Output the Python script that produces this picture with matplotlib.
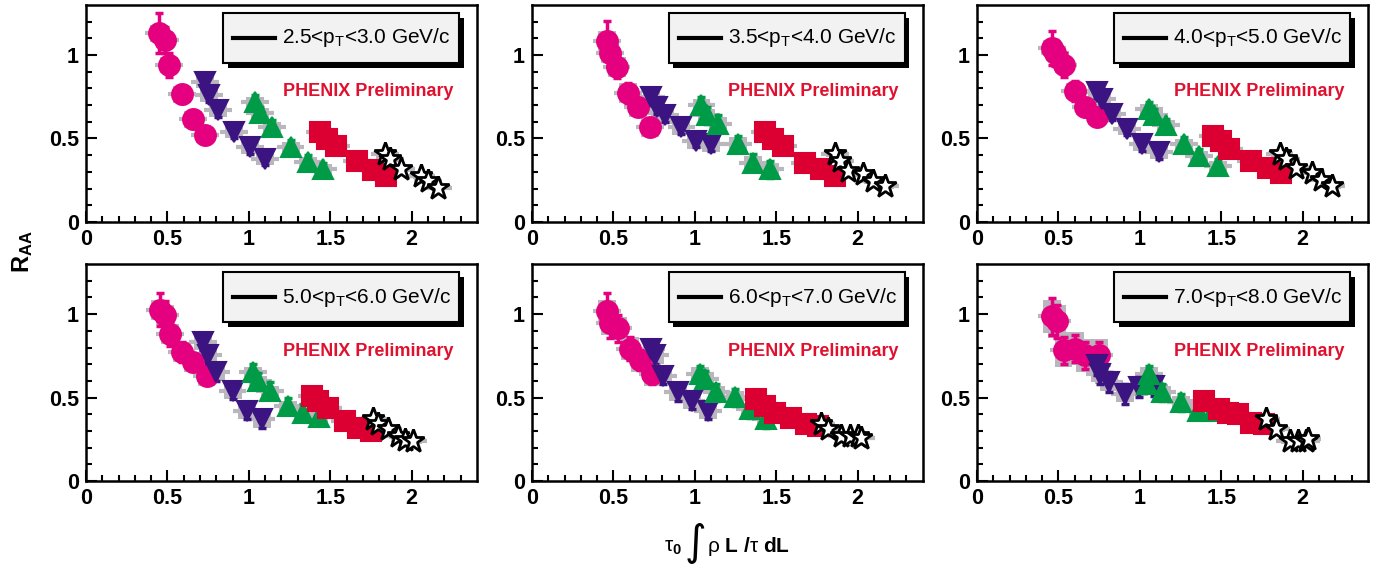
import matplotlib
matplotlib.use("Agg")
import matplotlib.pyplot as plt
from matplotlib.patches import Rectangle
import numpy as np

plt.rcParams['font.family'] = ['Liberation Sans', 'DejaVu Sans']
plt.rcParams['mathtext.fontset'] = 'custom'
plt.rcParams['mathtext.rm'] = 'Liberation Sans'
plt.rcParams['mathtext.bf'] = 'Liberation Sans:bold'
plt.rcParams['mathtext.it'] = 'Liberation Sans:italic'
plt.rcParams['mathtext.default'] = 'regular'

PT_BINS = ["2.5<p$_T$<3.0 GeV/c", "3.5<p$_T$<4.0 GeV/c", "4.0<p$_T$<5.0 GeV/c",
           "5.0<p$_T$<6.0 GeV/c", "6.0<p$_T$<7.0 GeV/c", "7.0<p$_T$<8.0 GeV/c"]

# magenta circles
CIRC_X = [[0.448, 0.485, 0.51, 0.59, 0.658, 0.73],
          [0.462, 0.478, 0.52, 0.591, 0.652, 0.724],
          [0.459, 0.479, 0.531, 0.603, 0.665, 0.737],
          [0.454, 0.485, 0.515, 0.587, 0.658, 0.74],
          [0.462, 0.478, 0.53, 0.601, 0.663, 0.74],
          [0.459, 0.49, 0.531, 0.603, 0.665, 0.747]]
CIRC_Y = [[1.13, 1.09, 0.94, 0.765, 0.614, 0.52],
          [1.083, 1.012, 0.931, 0.77, 0.689, 0.568],
          [1.042, 1.012, 0.941, 0.784, 0.689, 0.628],
          [1.026, 0.996, 0.879, 0.774, 0.712, 0.632],
          [1.016, 0.945, 0.915, 0.794, 0.723, 0.642],
          [0.986, 0.956, 0.784, 0.794, 0.753, 0.753]]
CIRC_ERR = [[0.12, 0.08, 0.07, 0.05, 0.05, 0.04],
            [0.12, 0.08, 0.07, 0.06, 0.05, 0.05],
            [0.1, 0.08, 0.07, 0.06, 0.05, 0.05],
            [0.1, 0.08, 0.07, 0.06, 0.05, 0.05],
            [0.11, 0.09, 0.08, 0.07, 0.06, 0.06],
            [0.11, 0.1, 0.08, 0.08, 0.08, 0.08]]
CIRC_SYS = [0.05, 0.06, 0.05, 0.06, 0.07, 0.1]

# purple down triangles
DOWN_X = [[0.73, 0.757, 0.81, 0.91, 1.006, 1.10],
          [0.734, 0.765, 0.816, 0.918, 1.006, 1.102],
          [0.737, 0.768, 0.83, 0.922, 1.015, 1.117],
          [0.72, 0.75, 0.80, 0.90, 0.986, 1.078],
          [0.734, 0.755, 0.806, 0.898, 0.98, 1.082],
          [0.737, 0.757, 0.809, 0.906, 0.994, 1.086]]
DOWN_Y = [[0.84, 0.76, 0.67, 0.54, 0.447, 0.38],
          [0.75, 0.689, 0.638, 0.568, 0.487, 0.467],
          [0.78, 0.739, 0.648, 0.558, 0.467, 0.416],
          [0.834, 0.753, 0.652, 0.541, 0.42, 0.37],
          [0.794, 0.753, 0.632, 0.531, 0.481, 0.42],
          [0.693, 0.642, 0.592, 0.521, 0.562, 0.571]]
DOWN_ERR = [0.04, 0.04, 0.04, 0.05, 0.05, 0.06]
DOWN_SYS = [0.04, 0.05, 0.04, 0.05, 0.05, 0.05]

# green up triangles
UP_X = [[1.037, 1.067, 1.14, 1.256, 1.364, 1.456],
        [1.041, 1.072, 1.143, 1.266, 1.358, 1.46],
        [1.056, 1.087, 1.159, 1.272, 1.364, 1.478],
        [1.027, 1.057, 1.129, 1.241, 1.333, 1.431],
        [1.031, 1.061, 1.133, 1.245, 1.337, 1.436],
        [1.045, 1.056, 1.138, 1.251, 1.354, 1.447]]
UP_Y = [[0.72, 0.65, 0.57, 0.45, 0.36, 0.315],
        [0.699, 0.638, 0.588, 0.467, 0.356, 0.315],
        [0.679, 0.638, 0.578, 0.467, 0.396, 0.335],
        [0.652, 0.60, 0.541, 0.45, 0.41, 0.386],
        [0.642, 0.612, 0.531, 0.501, 0.43, 0.37],
        [0.582, 0.642, 0.531, 0.471, 0.42, 0.42]]
UP_ERR = [0.04, 0.05, 0.04, 0.05, 0.05, 0.05]
UP_SYS = [0.03, 0.04, 0.03, 0.03, 0.04, 0.04]

# red squares
SQ_X = [[1.436, 1.477, 1.538, 1.665, 1.763, 1.845],
        [1.43, 1.48, 1.542, 1.675, 1.777, 1.859],
        [1.447, 1.498, 1.549, 1.683, 1.786, 1.868],
        [1.385, 1.425, 1.487, 1.589, 1.671, 1.753],
        [1.378, 1.43, 1.491, 1.593, 1.685, 1.757],
        [1.395, 1.488, 1.54, 1.601, 1.683, 1.765]]
SQ_Y = [[0.537, 0.497, 0.456, 0.366, 0.311, 0.275],
        [0.537, 0.497, 0.456, 0.356, 0.315, 0.275],
        [0.517, 0.487, 0.436, 0.366, 0.325, 0.295],
        [0.511, 0.481, 0.44, 0.36, 0.319, 0.299],
        [0.491, 0.45, 0.41, 0.38, 0.339, 0.329],
        [0.481, 0.43, 0.41, 0.40, 0.35, 0.339]]
SQ_SYS = [0.025, 0.025, 0.025, 0.025, 0.03, 0.03]

# black open stars
STAR_X = [[1.834, 1.865, 1.937, 2.06, 2.10, 2.16],
          [1.859, 1.89, 1.94, 2.03, 2.094, 2.166],
          [1.858, 1.9, 1.961, 2.054, 2.115, 2.177],
          [1.763, 1.793, 1.855, 1.916, 1.957, 2.008],
          [1.777, 1.818, 1.9, 1.951, 2.002, 2.02],
          [1.776, 1.838, 1.92, 1.97, 2.023, 2.03]]
STAR_Y = [[0.406, 0.376, 0.315, 0.275, 0.244, 0.204],
          [0.406, 0.366, 0.305, 0.285, 0.244, 0.214],
          [0.406, 0.376, 0.325, 0.295, 0.254, 0.214],
          [0.37, 0.339, 0.309, 0.269, 0.248, 0.238],
          [0.339, 0.309, 0.269, 0.269, 0.269, 0.26],
          [0.37, 0.309, 0.238, 0.238, 0.238, 0.25]]
STAR_SYS = [0.015, 0.015, 0.015, 0.015, 0.015, 0.015]

GRAY = '#bab6be'
BOX_HW = 0.055
LINE_HW = 0.085
W_PX, H_PX = 1381, 572


def draw_series(ax, xs, ys, errs, sys, color, marker, ms, mfc=None, mew=1.5):
    for x, y in zip(xs, ys):
        ax.add_patch(Rectangle((x - BOX_HW, y - sys), 2 * BOX_HW, 2 * sys,
                               facecolor=GRAY, edgecolor='none', zorder=1))
        ax.plot([x - LINE_HW, x + LINE_HW], [y, y], color=GRAY, lw=3,
                solid_capstyle='butt', zorder=1)
    ax.errorbar(xs, ys, yerr=errs, fmt='none', ecolor=color, elinewidth=2.5,
                capsize=3, capthick=2.5, zorder=2)
    ax.plot(xs, ys, ls='none', marker=marker, ms=ms, color=color,
            mfc=mfc if mfc else color, mec=color, mew=mew, zorder=3)


def px_text(x, y, s, **kw):
    # place text at pixel position measured from the top-left corner
    fig.text(x / W_PX, 1 - y / H_PX, s, **kw)


fig = plt.figure(figsize=(13.81, 5.72), dpi=100)
lefts = [0.0623, 0.3852, 0.7075]
bottoms = [0.612, 0.159]
w, h = 0.283, 0.3794

for i in range(6):
    r, c = divmod(i, 3)
    ax = fig.add_axes([lefts[c], bottoms[r], w, h])
    draw_series(ax, CIRC_X[i], CIRC_Y[i], CIRC_ERR[i], CIRC_SYS[i], '#e4007f', 'o', 15)
    draw_series(ax, DOWN_X[i], DOWN_Y[i], DOWN_ERR[i], DOWN_SYS[i], '#3c1482', 'v', 15)
    draw_series(ax, UP_X[i], UP_Y[i], UP_ERR[i], UP_SYS[i], '#009b46', '^', 15)
    draw_series(ax, SQ_X[i], SQ_Y[i], 0.02, SQ_SYS[i], '#dc0032', 's', 14)
    draw_series(ax, STAR_X[i], STAR_Y[i], 0.015, STAR_SYS[i], 'black', '*', 17,
                mfc='white', mew=2)

    ax.set_xlim(0, 2.4)
    ax.set_ylim(0, 1.3)
    ax.set_xticks([0, 0.5, 1, 1.5, 2])
    ax.set_xticklabels(['0', '0.5', '1', '1.5', '2'])
    ax.set_xticks(np.arange(0, 2.4, 0.1), minor=True)
    ax.set_yticks([0, 0.5, 1])
    ax.set_yticklabels(['0', '0.5', '1'])
    ax.set_yticks(np.arange(0, 1.3, 0.1), minor=True)
    ax.tick_params(which='both', direction='in', top=False, right=False, width=1.5)
    ax.tick_params(which='major', length=8, labelsize=15.5, pad=5)
    ax.tick_params(which='minor', length=4)
    for lab in ax.get_xticklabels() + ax.get_yticklabels():
        lab.set_fontweight('bold')
    for sp in ax.spines.values():
        sp.set_linewidth(1.8)

    # boxed label with shadow
    ax.add_patch(Rectangle((0.362, 0.711), 0.604, 0.23, transform=ax.transAxes,
                           facecolor='black', edgecolor='none', zorder=5, clip_on=False))
    ax.add_patch(Rectangle((0.35, 0.733), 0.604, 0.23, transform=ax.transAxes,
                           facecolor='#f2f2f2', edgecolor='black', lw=1.5, zorder=6))
    ax.plot([0.376, 0.483], [0.848, 0.848], transform=ax.transAxes, color='black',
            lw=3, zorder=7)
    ax.text(0.501, 0.848, PT_BINS[i], transform=ax.transAxes, fontsize=15,
            va='center', ha='left', zorder=7)
    ax.text(0.721, 0.599, 'PHENIX Preliminary', transform=ax.transAxes, fontsize=13,
            color='#e0102f', fontweight='bold', ha='center', va='center')

fig.text(0.016, 0.56, r'R$_{AA}$', rotation=90, fontsize=17, fontweight='bold',
         ha='center', va='center')

# x axis title built from pieces so the integral sign can be tall
px_text(664, 552, r'$\tau_{\mathbf{0}}$', fontsize=15, ha='left', va='baseline')
px_text(695, 543, '\u222b', fontsize=30, ha='center', va='center',
        family='DejaVu Sans')
px_text(707, 552, r'$\rho\ \mathbf{L}\ \mathbf{/}\tau\ \mathbf{dL}$', fontsize=15,
        ha='left', va='baseline')

fig.savefig('out.png', dpi=100)
